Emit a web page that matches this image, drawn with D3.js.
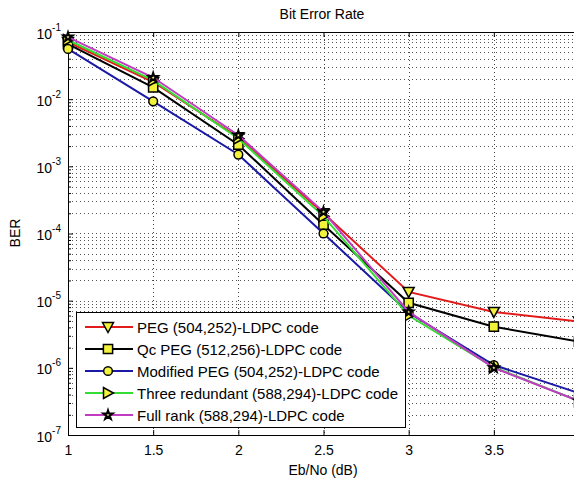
<!DOCTYPE html>
<html>
<head>
<meta charset="utf-8">
<script src="https://cdn.jsdelivr.net/npm/d3@7"></script>
<style>
  body { margin: 0; background: #fff; }
  svg { display: block; font-family: "Liberation Sans", Arial, sans-serif; }
</style>
</head>
<body>
<div id="chart"></div>
<script>
// Eb/No points
var ebno = [1, 1.5, 2, 2.5, 3, 3.5, 4];

// BER per code
var pegBer      = [0.071, 0.018, 0.0027, 2.0e-4, 1.35e-5, 6.8e-6, 4.9e-6];
var qcPegBer    = [0.066, 0.015, 0.0021, 1.35e-4, 9.3e-6, 4.1e-6, 2.45e-6];
var modPegBer   = [0.056, 0.0093, 0.0015, 1.0e-4, 6.6e-6, 1.1e-6, 4.2e-7];
var threeRedBer = [0.076, 0.019, 0.0026, 1.8e-4, 6.0e-6, 1.02e-6, 3.2e-7];
var fullRankBer = [0.084, 0.021, 0.0029, 2.1e-4, 6.8e-6, 1.0e-6, 3.2e-7];

var seriesNames = [
  "PEG (504,252)-LDPC code",
  "Qc PEG (512,256)-LDPC code",
  "Modified PEG (504,252)-LDPC code",
  "Three redundant (588,294)-LDPC code",
  "Full rank (588,294)-LDPC code"
];
var seriesValues = [pegBer, qcPegBer, modPegBer, threeRedBer, fullRankBer];
var seriesColours = ["#e31a1a", "#000000", "#1a1aa6", "#33dd33", "#c13cc1"];
var seriesMarkers = ["down", "square", "circle", "right", "star"];

var xTicks = [1, 1.5, 2, 2.5, 3, 3.5, 4];
var yDecades = [1e-7, 1e-6, 1e-5, 1e-4, 1e-3, 1e-2, 1e-1];

var width = 574, height = 481;
var svg = d3.select("#chart").append("svg")
  .attr("width", width)
  .attr("height", height);

var x = d3.scaleLinear().domain([1, 4]).range([68, 579]);
var y = d3.scaleLog().domain([1e-7, 1e-1]).range([435, 32]);

// minor log values
var yMinor = [];
yDecades.slice(0, -1).forEach(function (d) {
  for (var k = 2; k <= 9; k++) yMinor.push(d * k);
});

// grid
var grid = svg.append("g").attr("class", "grid");
grid.selectAll(".gy")
  .data(yDecades.concat(yMinor).filter(function (d) { return d > 1e-7 && d < 1e-1; }))
  .enter().append("line")
  .attr("x1", x(1)).attr("x2", x(4))
  .attr("y1", function (d) { return Math.round(y(d)) + 0.5; })
  .attr("y2", function (d) { return Math.round(y(d)) + 0.5; })
  .attr("stroke", "#555")
  .attr("stroke-dasharray", "1,3");
grid.selectAll(".gx")
  .data(xTicks.slice(1, -1))
  .enter().append("line")
  .attr("x1", function (d) { return Math.round(x(d)) + 0.5; })
  .attr("x2", function (d) { return Math.round(x(d)) + 0.5; })
  .attr("y1", y(1e-1)).attr("y2", y(1e-7))
  .attr("stroke", "#444")
  .attr("stroke-dasharray", "1,3");

// axes, ticks pointing inward like matlab
var bottomAx = svg.append("g")
  .attr("transform", "translate(0," + y(1e-7) + ")")
  .call(d3.axisBottom(x).tickValues(xTicks).tickSize(-5).tickPadding(10)
    .tickFormat(function (d) { return d < 4 ? d3.format("")(d) : ""; }));
var topAx = svg.append("g")
  .attr("transform", "translate(0," + y(1e-1) + ")")
  .call(d3.axisTop(x).tickValues(xTicks).tickSize(-5).tickFormat(""));
var leftMinor = svg.append("g")
  .attr("transform", "translate(" + x(1) + ",0)")
  .call(d3.axisLeft(y).tickValues(yMinor).tickSize(-3).tickFormat(""));
var leftAx = svg.append("g")
  .attr("transform", "translate(" + x(1) + ",0)")
  .call(d3.axisLeft(y).tickValues(yDecades).tickSize(-5).tickFormat(""));

[bottomAx, topAx, leftAx, leftMinor].forEach(function (g) {
  g.select(".domain").attr("stroke", "#000").attr("stroke-width", 1);
  g.selectAll(".tick line").attr("stroke", "#000");
});
leftMinor.select(".domain").remove();
bottomAx.selectAll("text")
  .attr("font-size", 14)
  .attr("font-family", "Liberation Sans, Arial, sans-serif")
  .attr("fill", "#000");

// y decade labels 10^n
var yLab = svg.append("g").selectAll("text")
  .data(yDecades)
  .enter().append("text")
  .attr("x", 61)
  .attr("y", function (d) { return y(d) + 6.5; })
  .attr("text-anchor", "end")
  .attr("font-size", 14)
  .attr("fill", "#000");
yLab.append("tspan").text("10");
yLab.append("tspan")
  .attr("dy", -8)
  .attr("font-size", 10)
  .text(function (d) { return Math.round(Math.log10(d)); });

// title & axis labels
svg.append("text")
  .attr("x", 322).attr("y", 19)
  .attr("text-anchor", "middle")
  .attr("font-size", 14)
  .text("Bit Error Rate");
svg.append("text")
  .attr("x", 323).attr("y", 475)
  .attr("text-anchor", "middle")
  .attr("font-size", 14)
  .text("Eb/No (dB)");
svg.append("text")
  .attr("transform", "translate(20,233) rotate(-90)")
  .attr("text-anchor", "middle")
  .attr("font-size", 14)
  .text("BER");

// marker shapes
function markerPath(type) {
  if (type == "down") return "M-5.5,-4.5L5.5,-4.5L0,5.5Z";
  if (type == "right") return "M-4.5,-5.5L-4.5,5.5L5.5,0Z";
  if (type == "square") return d3.symbol(d3.symbolSquare, 85)();
  if (type == "circle") return d3.symbol(d3.symbolCircle, 60)();
  return d3.symbol(d3.symbolStar, 26)();
}

var line = d3.line()
  .x(function (d, i) { return x(ebno[i]); })
  .y(function (d) { return y(d); });

var plot = svg.append("g");
seriesValues.forEach(function (vals, s) {
  var g = plot.append("g");
  g.append("path")
    .datum(vals)
    .attr("d", line)
    .attr("fill", "none")
    .attr("stroke", seriesColours[s])
    .attr("stroke-width", 2);
  g.selectAll("path.mk")
    .data(vals)
    .enter().append("path")
    .attr("class", "mk")
    .attr("d", markerPath(seriesMarkers[s]))
    .attr("transform", function (d, i) { return "translate(" + x(ebno[i]) + "," + y(d) + ")"; })
    .attr("fill", seriesMarkers[s] == "star" ? "#ffff99" : "#f2f23c")
    .attr("stroke", "#000")
    .attr("stroke-width", seriesMarkers[s] == "star" ? 2 : 1.5);
});

// legend
var legend = svg.append("g");
legend.append("rect")
  .attr("x", 76.5).attr("y", 312.5)
  .attr("width", 329).attr("height", 115)
  .attr("fill", "#fff")
  .attr("stroke", "#000");
var items = legend.selectAll("g.item")
  .data(seriesNames)
  .enter().append("g")
  .attr("class", "item")
  .attr("transform", function (d, i) { return "translate(0," + (327 + i * 22) + ")"; });
items.append("line")
  .attr("x1", 85).attr("x2", 133)
  .attr("stroke", function (d, i) { return seriesColours[i]; })
  .attr("stroke-width", 2);
items.append("path")
  .attr("d", function (d, i) { return markerPath(seriesMarkers[i]); })
  .attr("transform", "translate(108,0)")
  .attr("fill", function (d, i) { return seriesMarkers[i] == "star" ? "#ffff99" : "#f2f23c"; })
  .attr("stroke", "#000")
  .attr("stroke-width", function (d, i) { return seriesMarkers[i] == "star" ? 2 : 1.5; });
items.append("text")
  .attr("x", 137).attr("y", 5.5)
  .attr("font-size", 15)
  .attr("textLength", null)
  .text(function (d) { return d; });
</script>
</body>
</html>
